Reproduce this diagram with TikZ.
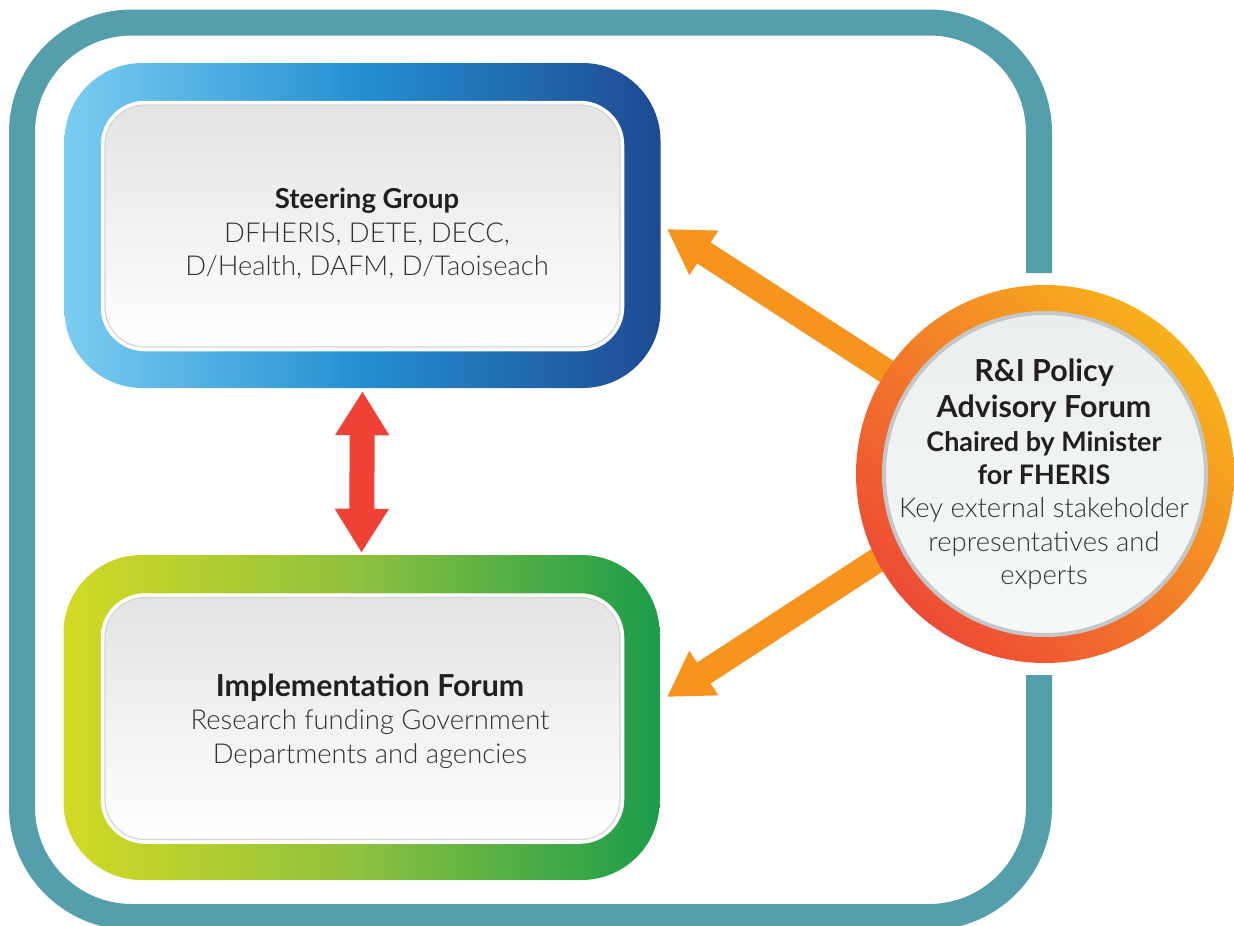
\documentclass[tikz,border=0pt]{standalone}
\usepackage{fontspec}
\setmainfont{Lato}
\newfontfamily\lightf{Lato Light}
\usetikzlibrary{arrows.meta}
\definecolor{frameteal}{HTML}{559FAD}
\definecolor{arroworange}{HTML}{F7941D}
\definecolor{arrowred}{HTML}{EF4136}
\definecolor{blueA}{HTML}{7BCDF1}
\definecolor{blueB}{HTML}{238FD0}
\definecolor{blueC}{HTML}{1F4A92}
\definecolor{greenA}{HTML}{D3DA24}
\definecolor{greenB}{HTML}{8DC13F}
\definecolor{greenC}{HTML}{1B9C4A}
\definecolor{ringY}{HTML}{F7B21B}
\definecolor{ringR}{HTML}{EE4B35}
\definecolor{paneltop}{HTML}{E3E4E4}
\definecolor{paneledge}{HTML}{D4D5D5}
\definecolor{discedge}{HTML}{C5C6C7}
\definecolor{discA}{HTML}{EBEEEF}
\definecolor{discB}{HTML}{F5F9FA}
\definecolor{textdark}{HTML}{231F20}
\definecolor{textbody}{HTML}{333132}
\tikzset{
  outerring/.style={rounded corners=78pt, minimum width=596pt, minimum height=325pt, inner sep=0pt},
  panel/.style={rounded corners=40pt, minimum width=515pt, minimum height=242pt, inner sep=0pt,
    top color=paneltop, bottom color=white, draw=paneledge, line width=1.2pt,
    preaction={draw=white, line width=8.5pt}},
  boxtext/.style={align=center, text=textbody, inner sep=0pt, font=\fontsize{27.4}{33.5}\selectfont},
  bigarrow/.style={draw=arroworange, line width=25pt, -{Triangle[width=50pt,length=44pt]}},
  dblarrow/.style={draw=arrowred, line width=25pt, {Triangle[width=51pt,length=44pt]}-{Triangle[width=51pt,length=44pt]}},
}
\begin{document}
\begin{tikzpicture}[x=1pt,y=-1pt]
\useasboundingbox (0,0) rectangle (1234,926);
\clip (0,0) rectangle (1234,926);

% outer teal frame
\draw[frameteal, line width=26pt, rounded corners=110pt]
  (1039,273) -- (1039,22.5) -- (22,22.5) -- (22,917) -- (1039,917) -- (1039,675);

% circle placement
\coordinate (cc) at (1045,474);
\coordinate (t1) at (667,229);
\coordinate (t2) at (667,697);
\coordinate (s2) at (1045,451);

% orange arrows (behind the circle)
\draw[bigarrow] (cc) -- (t1);
\draw[bigarrow] (s2) -- (t2);

% Steering Group
\node[outerring, left color=blueA, right color=blueC, middle color=blueB] (sgo) at (362.5,225.5) {};
\node[panel] (sgp) at (362.5,226) {};
\node[boxtext] (sgt) at (367,234) {{\bfseries\color{textdark}\fontsize{27.5}{30}\selectfont Steering Group}\\
  {\lightf DFHERIS, DETE, DECC,}\\
  {\lightf D/Health, DAFM, D/Taoiseach}};

% Implementation Forum
\node[outerring, left color=greenA, right color=greenC, middle color=greenB] (imo) at (361.5,717.5) {};
\node[panel] (imp) at (362.5,718.5) {};
\node[boxtext] (imt) at (370,721) {{\bfseries\color{textdark}\fontsize{30.3}{30}\selectfont Implementation Forum}\\
  {\lightf Research funding Government}\\
  {\lightf Departments and agencies}};

% red double arrow
\draw[dblarrow, shorten <=3pt, shorten >=2pt] (sgo.south) -- (imo.north);

% R&I Policy Advisory Forum circle
\node[circle, minimum size=378pt, inner sep=0pt, top color=ringY, bottom color=ringR, shading angle=-45] (ring) at (cc) {};
\node[circle, minimum size=322pt, inner sep=0pt, draw=discedge, line width=4pt, top color=discA, bottom color=discB] (disc) at (cc) {};
\node[align=center, inner sep=0pt, text=textdark, font=\fontsize{27.4}{33.2}\selectfont] (pft) at (1044,474)
  {{\bfseries\fontsize{30.4}{30}\selectfont R\&I Policy}\\[2.5pt]
   {\bfseries\fontsize{30.4}{30}\selectfont Advisory Forum}\\[1pt]
   {\bfseries\fontsize{26.9}{30}\selectfont Chaired by Minister}\\
   {\bfseries\fontsize{26.9}{30}\selectfont for FHERIS}\\
   {\lightf\color{textbody} Key external stakeholder}\\
   {\lightf\color{textbody} representatives and}\\
   {\lightf\color{textbody} experts}};
\end{tikzpicture}
\end{document}
